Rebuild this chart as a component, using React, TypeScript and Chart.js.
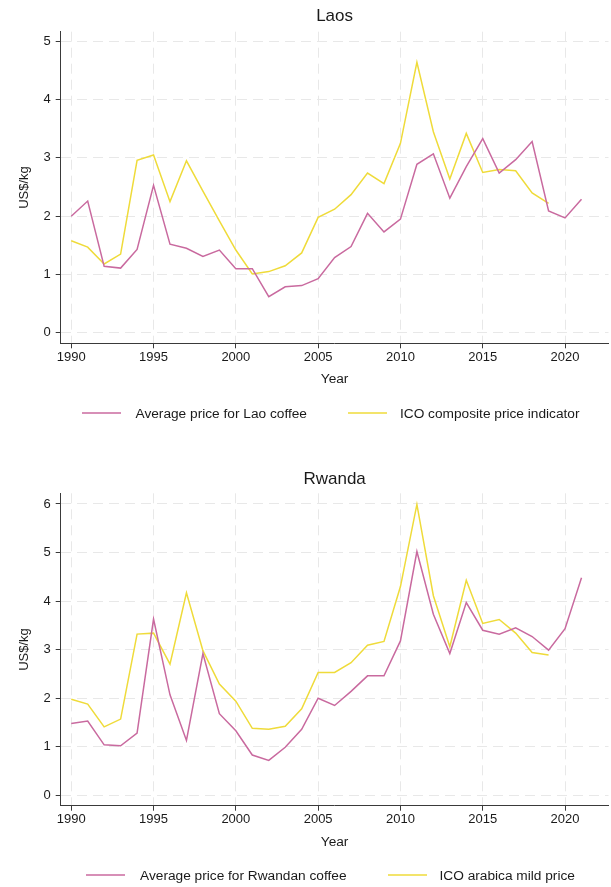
import { useEffect, useRef } from 'react';
import { Chart, registerables } from 'chart.js';

Chart.register(...registerables);

// ---------- data ----------
const years = [
  1990, 1991, 1992, 1993, 1994, 1995, 1996, 1997, 1998, 1999,
  2000, 2001, 2002, 2003, 2004, 2005, 2006, 2007, 2008, 2009,
  2010, 2011, 2012, 2013, 2014, 2015, 2016, 2017, 2018, 2019,
  2020, 2021,
];

// Laos panel
const laoCoffeePrice = [
  2.0, 2.26, 1.14, 1.11, 1.43, 2.53, 1.52, 1.45, 1.31, 1.42,
  1.1, 1.1, 0.62, 0.79, 0.81, 0.93, 1.29, 1.48, 2.05, 1.73,
  1.95, 2.89, 3.07, 2.31, 2.85, 3.33, 2.74, 2.97, 3.28, 2.09,
  1.97, 2.29,
];
const icoCompositePrice = [
  1.58, 1.47, 1.18, 1.35, 2.96, 3.05, 2.25, 2.95, 2.43, 1.92,
  1.42, 1.01, 1.05, 1.15, 1.37, 1.98, 2.12, 2.37, 2.74, 2.56,
  3.25, 4.64, 3.45, 2.64, 3.42, 2.75, 2.8, 2.78, 2.4, 2.22,
];

// Rwanda panel
const rwandaCoffeePrice = [
  1.48, 1.53, 1.04, 1.02, 1.28, 3.63, 2.07, 1.13, 2.92, 1.68,
  1.33, 0.83, 0.72, 0.99, 1.36, 2.0, 1.85, 2.14, 2.46, 2.46,
  3.18, 5.02, 3.73, 2.92, 3.97, 3.4, 3.32, 3.45, 3.27, 2.99,
  3.43, 4.48,
];
const icoArabicaMildPrice = [
  1.98, 1.88, 1.41, 1.57, 3.32, 3.34, 2.7, 4.17, 2.98, 2.29,
  1.94, 1.38, 1.36, 1.42, 1.78, 2.53, 2.53, 2.73, 3.09, 3.17,
  4.3, 5.99, 4.11, 3.06, 4.43, 3.54, 3.62, 3.34, 2.94, 2.89,
];

const xTicks = [1990, 1995, 2000, 2005, 2010, 2015, 2020];
const laosYTicks = [0, 1, 2, 3, 4, 5];
const rwandaYTicks = [0, 1, 2, 3, 4, 5, 6];

// ---------- style ----------
const PINK = '#c96a9f';
const YELLOW = '#efdb3a';
const FONT = '"Liberation Sans", Arial, Helvetica, sans-serif';
const TEXT = '#1a1a1a';
const GRID = '#e8e8e8';
const AXIS = '#3a3a3a';

const toPoints = (values: number[]) => values.map((v, i) => ({ x: years[i], y: v }));

type Series = { label: string; values: number[]; color: string };

type PanelProps = {
  title: string;
  top: number;
  height: number;
  series: Series[];
  yTicks: number[];
  yMin: number;
  yMax: number;
  titlePadTop: number;
  titlePadBottom: number;
  padBottom: number;
  legendTop: number;
};

function Panel(p: PanelProps) {
  const ref = useRef<HTMLCanvasElement | null>(null);

  useEffect(() => {
    if (!ref.current) return;
    const chart = new Chart(ref.current, {
      type: 'line',
      data: {
        datasets: p.series.map((s) => ({
          label: s.label,
          data: toPoints(s.values),
          borderColor: s.color,
          backgroundColor: s.color,
          borderWidth: 1.5,
          pointRadius: 0,
          tension: 0,
          fill: false,
        })),
      },
      options: {
        animation: false,
        responsive: true,
        maintainAspectRatio: false,
        events: [],
        layout: { padding: { left: 0, right: 2.5, top: 0, bottom: p.padBottom } },
        plugins: {
          legend: { display: false },
          tooltip: { enabled: false },
          title: {
            display: true,
            text: p.title,
            fullSize: false,
            color: TEXT,
            font: { family: FONT, size: 17, weight: 'normal', lineHeight: 1.2 },
            padding: { top: p.titlePadTop, bottom: p.titlePadBottom },
          },
        },
        scales: {
          x: {
            type: 'linear',
            min: 1989.36,
            max: 2022.64,
            afterBuildTicks: (scale: any) => {
              scale.ticks = xTicks.map((v) => ({ value: v }));
            },
            afterFit: (scale: any) => {
              scale.height = 44.5;
            },
            ticks: {
              color: TEXT,
              font: { family: FONT, size: 13 },
              padding: 1,
              maxRotation: 0,
              autoSkip: false,
              callback: (v: any) => String(v),
            },
            grid: {
              color: GRID,
              lineWidth: 1,
              tickLength: 5,
              tickColor: AXIS,
              tickBorderDash: [],
            },
            border: { display: true, color: AXIS, width: 1, dash: [10, 6] },
            title: {
              display: true,
              text: 'Year',
              color: TEXT,
              font: { family: FONT, size: 13.7, lineHeight: 1.2 },
              padding: { top: 0, bottom: 0 },
            },
          },
          y: {
            type: 'linear',
            min: p.yMin,
            max: p.yMax,
            afterBuildTicks: (scale: any) => {
              scale.ticks = p.yTicks.map((v) => ({ value: v }));
            },
            afterFit: (scale: any) => {
              scale.width = 60.7;
            },
            ticks: {
              color: TEXT,
              font: { family: FONT, size: 13 },
              padding: 5,
              callback: (v: any) => String(v),
            },
            grid: {
              color: GRID,
              lineWidth: 1,
              tickLength: 5,
              tickColor: AXIS,
              tickBorderDash: [],
            },
            border: { display: true, color: AXIS, width: 1, dash: [10, 6] },
            title: {
              display: true,
              text: 'US$/kg',
              color: TEXT,
              font: { family: FONT, size: 13, lineHeight: 1.2 },
              padding: { top: 16.2, bottom: 0 },
            },
          },
        },
      },
    } as any);
    return () => chart.destroy();
  }, []);

  return (
    <>
      <div style={{ position: 'absolute', left: 0, top: p.top, width: 611, height: p.height }}>
        <canvas ref={ref} style={{ display: 'block' }} />
      </div>
      <div
        style={{
          position: 'absolute',
          left: 50,
          width: 561,
          top: p.legendTop - 8,
          height: 16,
          display: 'flex',
          justifyContent: 'center',
          alignItems: 'center',
          fontFamily: FONT,
          fontSize: 13.7,
          color: TEXT,
          whiteSpace: 'nowrap',
        }}
      >
        {p.series.map((s, i) => (
          <div
            key={s.label}
            style={{ display: 'flex', alignItems: 'center', marginLeft: i === 0 ? 0 : 41 }}
          >
            <span
              style={{
                display: 'inline-block',
                width: 39,
                height: 0,
                borderTop: `2px solid ${s.color}`,
                opacity: 0.75,
                marginRight: i === 0 ? 15 : 13,
              }}
            />
            <span>{s.label}</span>
          </div>
        ))}
      </div>
    </>
  );
}

export default function App() {
  return (
    <div style={{ position: 'absolute', left: 0, top: 0, width: 611, height: 887, background: '#fff' }}>
      <Panel
        title="Laos"
        top={0}
        height={440}
        series={[
          { label: 'Average price for Lao coffee', values: laoCoffeePrice, color: PINK },
          { label: 'ICO composite price indicator', values: icoCompositePrice, color: YELLOW },
        ]}
        yTicks={laosYTicks}
        yMin={-0.18}
        yMax={5.165}
        titlePadTop={6}
        titlePadBottom={5.3}
        padBottom={52.2}
        legendTop={413}
      />
      <Panel
        title="Rwanda"
        top={440}
        height={447}
        series={[
          { label: 'Average price for Rwandan coffee', values: rwandaCoffeePrice, color: PINK },
          { label: 'ICO arabica mild price', values: icoArabicaMildPrice, color: YELLOW },
        ]}
        yTicks={rwandaYTicks}
        yMin={-0.214}
        yMax={6.22}
        titlePadTop={28.8}
        titlePadBottom={4.1}
        padBottom={36.8}
        legendTop={875.4}
      />
    </div>
  );
}
